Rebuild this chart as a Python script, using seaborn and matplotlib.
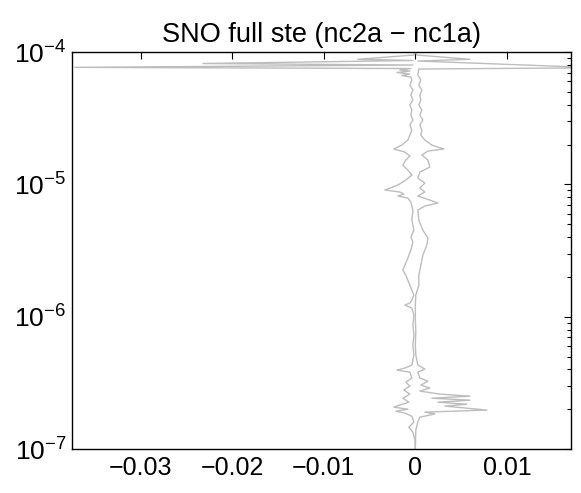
import numpy as np
import pandas as pd
import matplotlib
matplotlib.use("Agg")
import matplotlib.pyplot as plt
from matplotlib.ticker import LogLocator, FixedLocator, FixedFormatter
import seaborn as sns

title = "SNO full ste (nc2a \u2212 nc1a)"
x_ticks = [-0.03, -0.02, -0.01, 0.0, 0.01]
x_tick_labels = ["\u22120.03", "\u22120.02", "\u22120.01", "0", "0.01"]
x_limits = (-0.0375, 0.017)
y_limits = (1e-7, 1e-4)

# profile 1 (spreads to the left)
diff_a = [0, -0.00016, -0.00628, -0.00027, -0.0232, -0.00027, -0.0372, -0.00049,
          -0.00169, -0.0006, -0.00202, -0.0006, -0.00148, -0.00049, -0.00038, -0.0006,
          -0.00027, -0.00049, -0.00027, -0.0006, -0.00038, -0.00049, -0.00027, -0.0006,
          -0.00038, -0.0006, -0.00082, -0.00148, -0.00235, -0.00115, -0.0006, -0.00104,
          -0.00137, -0.00082, -0.00038, -0.00104, -0.00191, -0.00333, -0.00169, -0.00126,
          -0.00191, -0.00082, -0.00049, -0.00027, -0.00038, -0.00016, -0.00049, -0.00027,
          -0.00049, -0.00082, -0.00115, -0.00137, -0.00104, -0.0006, -0.00016, -0.00038,
          -0.0006, -0.00115, -0.00038, -0.00016, -0.00027, -0.00016, -0.00027, -0.00016,
          -0.00038, -0.00115, -0.00202, -0.0006, -0.00038, -0.00104, -0.0006, -0.00126,
          -0.0006, -0.00137, -0.00071, -0.00169, -0.00235, -0.00082, -0.00213, -0.00115,
          -0.00038, -0.00016, -0.00071, -0.00027, -0.00005, 0]
level_a = [1.0e-4, 9.49e-5, 8.81e-5, 8.63e-5, 8.19e-5, 7.97e-5, 7.66e-5, 7.50e-5,
           7.31e-5, 7.18e-5, 7.00e-5, 6.82e-5, 6.64e-5, 6.47e-5, 6.14e-5, 5.63e-5,
           5.16e-5, 4.73e-5, 4.34e-5, 3.98e-5, 3.64e-5, 3.34e-5, 3.06e-5, 2.81e-5,
           2.57e-5, 2.36e-5, 2.16e-5, 1.98e-5, 1.85e-5, 1.754e-5, 1.636e-5, 1.527e-5,
           1.40e-5, 1.282e-5, 1.176e-5, 1.078e-5, 9.88e-6, 9.06e-6, 8.75e-6, 8.45e-6,
           8.16e-6, 7.88e-6, 7.35e-6, 6.39e-6, 5.37e-6, 4.51e-6, 4.00e-6, 3.66e-6,
           3.19e-6, 2.77e-6, 2.45e-6, 2.25e-6, 2.06e-6, 1.73e-6, 1.456e-6, 1.335e-6,
           1.267e-6, 1.224e-6, 1.161e-6, 1.028e-6, 8.64e-7, 7.26e-7, 6.10e-7, 5.13e-7,
           4.31e-7, 4.09e-7, 3.95e-7, 3.81e-7, 3.44e-7, 3.20e-7, 2.99e-7, 2.79e-7,
           2.60e-7, 2.42e-7, 2.26e-7, 2.15e-7, 2.07e-7, 2.00e-7, 1.93e-7, 1.87e-7,
           1.77e-7, 1.60e-7, 1.46e-7, 1.34e-7, 1.17e-7, 1.0e-7]

# profile 2 (spreads to the right)
diff_b = [0, 0.00016, 0.00596, 0.00027, 0.0200, 0.00038, 0.00027, 0.0006,
          0.00038, 0.00071, 0.00049, 0.0006, 0.00038, 0.00071, 0.00049, 0.00082,
          0.00049, 0.00071, 0.0006, 0.00104, 0.0018, 0.00311, 0.00137, 0.00071,
          0.00137, 0.00158, 0.00049, 0.00027, 0.00104, 0.00049, 0.00104, 0.00027,
          0.00158, 0.00246, 0.00104, 0.00027, 0.00038, 0.00082, 0.00137, 0.00126,
          0.00082, 0.0006, 0.00038, 0.00038, 0.00005, 0.0, 0.0, 0.00005,
          0.0, 0.00005, 0.00027, 0.00104, 0.00027, 0.00049, 0.00137, 0.0006,
          0.00158, 0.00049, 0.00268, 0.00596, 0.0018, 0.00596, 0.00246, 0.00563,
          0.00322, 0.00781, 0.00104, 0.00213, 0.00049, 0.00027, 0.00005, 0]
level_b = [1.0e-4, 9.49e-5, 8.81e-5, 8.55e-5, 7.60e-5, 7.44e-5, 6.70e-5, 6.14e-5,
           5.63e-5, 5.16e-5, 4.73e-5, 4.34e-5, 3.98e-5, 3.64e-5, 3.34e-5, 3.06e-5,
           2.81e-5, 2.57e-5, 2.36e-5, 2.16e-5, 1.98e-5, 1.85e-5, 1.785e-5, 1.665e-5,
           1.527e-5, 1.351e-5, 1.239e-5, 1.116e-5, 1.023e-5, 9.38e-6, 8.75e-6, 8.16e-6,
           7.61e-6, 7.22e-6, 6.86e-6, 6.39e-6, 5.37e-6, 4.51e-6, 3.93e-6, 3.48e-6,
           2.92e-6, 2.45e-6, 2.06e-6, 1.73e-6, 1.456e-6, 1.224e-6, 9.43e-7, 7.92e-7,
           6.10e-7, 5.13e-7, 4.31e-7, 4.02e-7, 3.81e-7, 3.44e-7, 3.26e-7, 3.04e-7,
           2.89e-7, 2.74e-7, 2.60e-7, 2.51e-7, 2.42e-7, 2.34e-7, 2.26e-7, 2.18e-7,
           2.11e-7, 1.97e-7, 1.90e-7, 1.84e-7, 1.74e-7, 1.60e-7, 1.39e-7, 1.0e-7]

df = pd.concat([
    pd.DataFrame({"diff": diff_a, "level": level_a, "profile": "a"}),
    pd.DataFrame({"diff": diff_b, "level": level_b, "profile": "b"}),
], ignore_index=True)

sns.set_theme(style="white")
plt.rcParams["font.family"] = ["Liberation Sans", "DejaVu Sans"]
plt.rcParams["mathtext.fontset"] = "custom"
plt.rcParams["mathtext.rm"] = "Liberation Sans"
plt.rcParams["mathtext.it"] = "Liberation Sans:italic"
plt.rcParams["mathtext.default"] = "regular"

fig = plt.figure(figsize=(5.81, 4.93), dpi=100)
ax = fig.add_axes([0.1239, 0.0892, 0.8589, 0.8053])
ax.set_yscale("log")

sns.lineplot(data=df, x="diff", y="level", hue="profile", sort=False,
             estimator=None, palette=["#bdbdbd", "#bdbdbd"], linewidth=1.0,
             legend=False, ax=ax)

ax.set_xlim(*x_limits)
ax.set_ylim(*y_limits)
ax.set_xlabel("")
ax.set_ylabel("")
ax.xaxis.set_major_locator(FixedLocator(x_ticks))
ax.xaxis.set_major_formatter(FixedFormatter(x_tick_labels))
ax.yaxis.set_major_locator(LogLocator(base=10, numticks=10))
ax.yaxis.set_minor_locator(LogLocator(base=10, subs=np.arange(2, 10), numticks=10))

for s in ax.spines.values():
    s.set_color("black")
    s.set_linewidth(1.0)
ax.tick_params(axis="both", which="both", direction="in", top=True, right=True,
               colors="black", width=0.8)
ax.tick_params(axis="x", which="major", labelsize=18, length=5, pad=5)
ax.tick_params(axis="y", which="major", labelsize=19, length=5, pad=4)
ax.tick_params(axis="y", which="minor", length=3)
ax.set_title(title, fontsize=19.5, color="black", pad=7)

fig.savefig("out.png", dpi=100, facecolor="white")
